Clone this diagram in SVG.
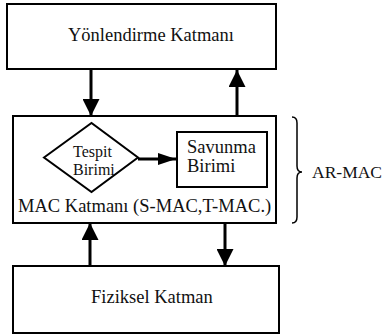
<svg xmlns="http://www.w3.org/2000/svg" width="384" height="336" viewBox="0 0 384 336">
<style>
.box{fill:#fff;stroke:#000;stroke-width:2}
.t{font-family:'Liberation Serif','DejaVu Serif',serif;font-size:18.5px;fill:#111}
.ts{font-family:'Liberation Serif','DejaVu Serif',serif;font-size:16px;fill:#111}
.c{fill:none;stroke:#000;stroke-width:3}
</style>
<defs>
<marker id="ah" markerUnits="userSpaceOnUse" markerWidth="17" markerHeight="17" refX="17" refY="8.5" orient="auto" viewBox="0 0 17 17">
<path d="M0,0 L17,8.5 L0,17 z" fill="#000"/>
</marker>
<marker id="ahs" markerUnits="userSpaceOnUse" markerWidth="18" markerHeight="12" refX="18" refY="6" orient="auto" viewBox="0 0 18 12">
<path d="M0,0 L18,6 L0,12 z" fill="#000"/>
</marker>
</defs>
<rect width="384" height="336" fill="#fff"/>
<g id="yonlendirme">
<rect class="box" x="7" y="4" width="269" height="65"/>
<text class="t" x="68" y="41">Yönlendirme Katmanı</text>
</g>
<g id="mac">
<rect class="box" x="13" y="116" width="263" height="107"/>
<text class="t" x="18" y="212">MAC Katmanı (S-MAC,T-MAC.)</text>
</g>
<g id="tespit">
<polygon points="44,157.5 91.5,123 138,157.5 91.5,192" fill="#fff" stroke="#000" stroke-width="2"/>
<text class="ts" x="73" y="157">Tespit</text>
<text class="ts" x="73" y="175">Birimi</text>
</g>
<g id="savunma">
<rect class="box" x="177" y="132" width="90" height="55"/>
<text class="t" x="187" y="153">Savunma</text>
<text class="t" x="187" y="172">Birimi</text>
</g>
<g id="fiziksel">
<rect class="box" x="13" y="266" width="266" height="67"/>
<text class="t" x="91" y="303">Fiziksel Katman</text>
</g>
<g id="armac">
<path d="M292,117 Q297,117 297,123 L297,166 Q297,172 302,172 Q297,172 297,178 L297,217 Q297,223 292,223" fill="none" stroke="#000" stroke-width="1.5"/>
<text class="t" x="312" y="178" style="font-size:17.5px">AR-MAC</text>
</g>
<g id="connectors">
<line class="c" x1="91" y1="69" x2="91" y2="116" marker-end="url(#ah)"/>
<line class="c" x1="237" y1="116" x2="237" y2="70" marker-end="url(#ah)"/>
<line class="c" x1="138" y1="159" x2="176" y2="159" marker-end="url(#ahs)"/>
<line class="c" x1="90" y1="266" x2="90" y2="223" marker-end="url(#ah)"/>
<line class="c" x1="225" y1="223" x2="225" y2="266" marker-end="url(#ah)"/>
</g>
</svg>
